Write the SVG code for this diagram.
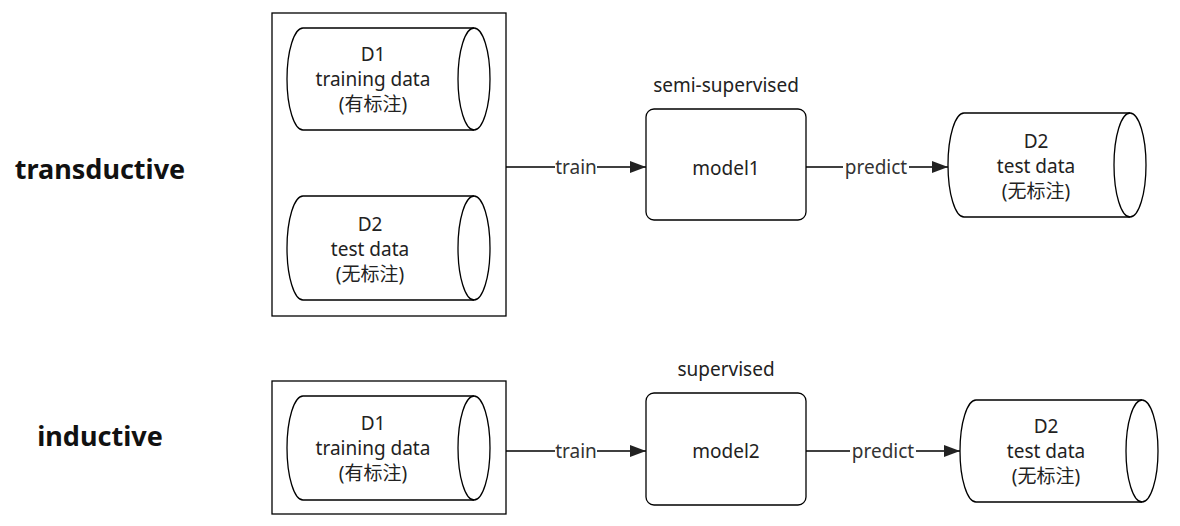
<svg xmlns="http://www.w3.org/2000/svg" width="1180" height="526" viewBox="0 0 1180 526">
<defs>
<style>
.s{fill:#fff;stroke:#000;stroke-width:1.3}
.n{fill:none;stroke:#000;stroke-width:1.3}
text{font-family:"Noto Sans","Noto Sans CJK SC",sans-serif;font-size:19px;fill:#222;text-anchor:middle}
.b{font-size:27px;font-weight:bold;fill:#111}
.l{fill:#333}
</style>
<marker id="a" markerWidth="16" markerHeight="12" refX="16" refY="6" orient="auto" markerUnits="userSpaceOnUse"><path d="M0,0 L16,6 L0,12 Z" fill="#222"/></marker>
</defs>
<g id="labels">
<text class="b" x="100" y="179">transductive</text>
<text class="b" x="100" y="446">inductive</text>
</g>
<g id="container1"><rect class="s" x="272" y="13" width="234" height="303"/></g>
<g id="container2"><rect class="s" x="272" y="381" width="234" height="133"/></g>
<g id="d1a">
<path class="s" d="M303,28 L474,28 A16,51 0 0 1 474,130 L303,130 A16,51 0 0 1 303,28 Z"/>
<path class="n" d="M474,28 A16,51 0 0 0 474,130"/>
<text x="373" y="61">D1</text><text x="373" y="86">training data</text><text x="373" y="111">(有标注)</text>
</g>
<g id="d2a">
<path class="s" d="M303,196 L474,196 A16,52 0 0 1 474,300 L303,300 A16,52 0 0 1 303,196 Z"/>
<path class="n" d="M474,196 A16,52 0 0 0 474,300"/>
<text x="370" y="231">D2</text><text x="370" y="256">test data</text><text x="370" y="281">(无标注)</text>
</g>
<g id="model1">
<text x="726" y="92">semi-supervised</text>
<rect class="s" x="646" y="109" width="160" height="111" rx="8"/>
<text x="726" y="175">model1</text>
</g>
<g id="d2b">
<path class="s" d="M964,113 L1130,113 A16,52 0 0 1 1130,217 L964,217 A16,52 0 0 1 964,113 Z"/>
<path class="n" d="M1130,113 A16,52 0 0 0 1130,217"/>
<text x="1036" y="148">D2</text><text x="1036" y="173">test data</text><text x="1036" y="198">(无标注)</text>
</g>
<g id="d1b">
<path class="s" d="M303,396 L474,396 A16,52 0 0 1 474,500 L303,500 A16,52 0 0 1 303,396 Z"/>
<path class="n" d="M474,396 A16,52 0 0 0 474,500"/>
<text x="373" y="430">D1</text><text x="373" y="455">training data</text><text x="373" y="480">(有标注)</text>
</g>
<g id="model2">
<text x="726" y="376">supervised</text>
<rect class="s" x="646" y="393" width="160" height="112" rx="8"/>
<text x="726" y="458">model2</text>
</g>
<g id="d2c">
<path class="s" d="M976,400 L1142,400 A16,51 0 0 1 1142,502 L976,502 A16,51 0 0 1 976,400 Z"/>
<path class="n" d="M1142,400 A16,51 0 0 0 1142,502"/>
<text x="1046" y="433">D2</text><text x="1046" y="458">test data</text><text x="1046" y="483">(无标注)</text>
</g>
<g id="connectors">
<path class="n" d="M506,167 L646,167" marker-end="url(#a)"/>
<path class="n" d="M806,167 L948,167" marker-end="url(#a)"/>
<path class="n" d="M506,451 L646,451" marker-end="url(#a)"/>
<path class="n" d="M806,451 L960,451" marker-end="url(#a)"/>
<rect x="555" y="156" width="42" height="22" fill="#fff"/>
<text class="l" x="576" y="174">train</text>
<rect x="843" y="156" width="66" height="22" fill="#fff"/>
<text class="l" x="876" y="174">predict</text>
<rect x="555" y="440" width="42" height="22" fill="#fff"/>
<text class="l" x="576" y="458">train</text>
<rect x="850" y="440" width="66" height="22" fill="#fff"/>
<text class="l" x="883" y="458">predict</text>
</g>
</svg>
